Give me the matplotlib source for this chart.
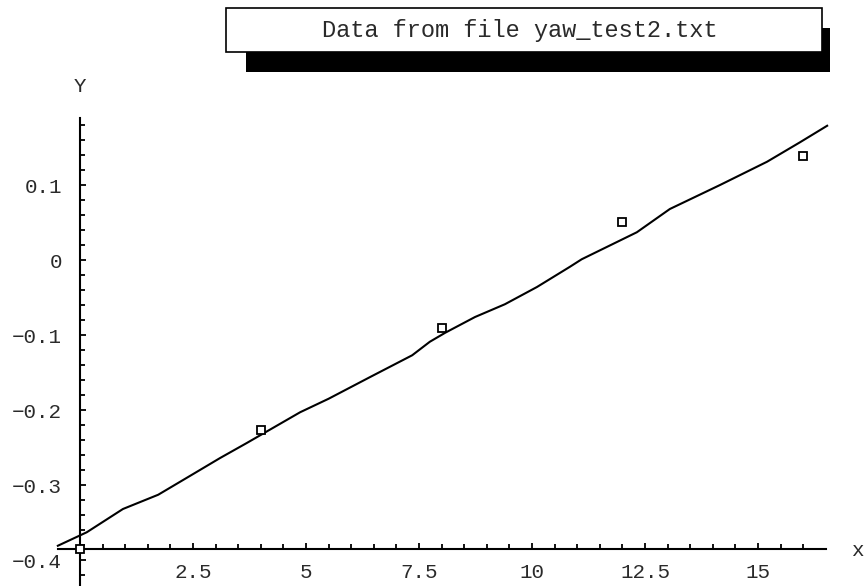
import matplotlib
matplotlib.use("Agg")
import matplotlib.pyplot as plt
import numpy as np
from matplotlib.patches import Rectangle
from matplotlib.ticker import FixedLocator

# ---- data ----
data_x = [0, 4, 8, 12, 16]
data_y = [-0.385, -0.226, -0.091, 0.051, 0.139]

fit_x = [-0.49, 0.15, 0.95, 1.73, 2.43, 3.10, 3.69, 4.87, 5.50, 6.42, 7.35, 7.74,
         8.08, 8.74, 9.40, 10.11, 10.84, 11.10, 12.32, 13.05, 14.16, 15.20, 15.93, 16.53]
fit_y = [-0.381, -0.363, -0.332, -0.313, -0.288, -0.264, -0.244, -0.203, -0.185,
         -0.156, -0.127, -0.109, -0.097, -0.076, -0.059, -0.036, -0.009, 0.001,
         0.037, 0.068, 0.100, 0.131, 0.157, 0.179]

x_major = [2.5, 5, 7.5, 10, 12.5, 15]
x_labels = ["2.5", "5", "7.5", "10", "12.5", "15"]
y_major = [-0.4, -0.3, -0.2, -0.1, 0, 0.1]
y_labels = ["\u22120.4", "\u22120.3", "\u22120.2", "\u22120.1", "0", "0.1"]

title = "Data from file yaw_test2.txt"

FONT = "Liberation Mono"
W, H = 864, 586

fig = plt.figure(figsize=(W / 100, H / 100), dpi=100)
ax = fig.add_axes([0, 0, 1, 1])
ax.patch.set_alpha(0)

# map pixels to data: x_px = 80 + 45.2*x ; y_px = 185 + (0.1-y)*750
ax.set_xlim(-80 / 45.2, (W - 80) / 45.2)
ax.set_ylim(0.1 - (H - 185) / 750, 0.1 + 185 / 750)

x_axis_y = -0.3853
for s in ["top", "right"]:
    ax.spines[s].set_visible(False)
ax.spines["left"].set_position(("data", 0))
ax.spines["bottom"].set_position(("data", x_axis_y))
ax.spines["left"].set_bounds(0.1 - (H - 185) / 750, 0.19)
ax.spines["bottom"].set_bounds(-0.49, 16.5)
for s in ["left", "bottom"]:
    ax.spines[s].set_linewidth(1.5)

ax.xaxis.set_major_locator(FixedLocator(x_major))
ax.set_xticklabels(x_labels)
ax.xaxis.set_minor_locator(FixedLocator(np.arange(0.5, 16.01, 0.5)))
ax.yaxis.set_major_locator(FixedLocator(y_major))
ax.set_yticklabels(y_labels)
ax.yaxis.set_minor_locator(FixedLocator(np.arange(-0.42, 0.181, 0.02)))

ax.tick_params(which="both", direction="in", width=1.3)
ax.tick_params(which="major", length=4.5)
ax.tick_params(which="minor", length=3.5)
ax.tick_params(axis="x", which="major", pad=10, labelsize=15)
ax.tick_params(axis="y", which="major", pad=13, labelsize=15)
for lab in ax.get_xticklabels() + ax.get_yticklabels():
    lab.set_fontfamily(FONT)
    lab.set_color("#2a2a2a")

ax.plot(fit_x, fit_y, color="black", lw=1.5, zorder=3, clip_on=False)
ax.plot(data_x, data_y, linestyle="none", marker="s", markersize=6,
        markerfacecolor="white", markeredgecolor="black", markeredgewidth=1.3,
        zorder=4, clip_on=False)

# axis labels
fig.text(80 / W, 1 - 86 / H, "Y", fontfamily=FONT, fontsize=15,
         ha="center", va="center", color="#2a2a2a")
fig.text(857 / W, 1 - 551 / H, "x", fontfamily=FONT, fontsize=15,
         ha="center", va="center", color="#2a2a2a")

# title box with shadow
def px_rect(x0, y0, x1, y1, **kw):
    return Rectangle((x0 / W, 1 - y1 / H), (x1 - x0) / W, (y1 - y0) / H,
                     transform=fig.transFigure, **kw)

fig.add_artist(px_rect(246, 28, 830, 72, facecolor="black", edgecolor="none", zorder=5))
fig.add_artist(px_rect(226, 8, 822, 52, facecolor="white", edgecolor="black",
                       linewidth=1.2, zorder=6))
fig.text(520 / W, 1 - 31 / H, title, fontfamily=FONT, fontsize=17,
         ha="center", va="center", color="#2a2a2a", zorder=7)

fig.savefig("out.png", dpi=100, facecolor="white")
